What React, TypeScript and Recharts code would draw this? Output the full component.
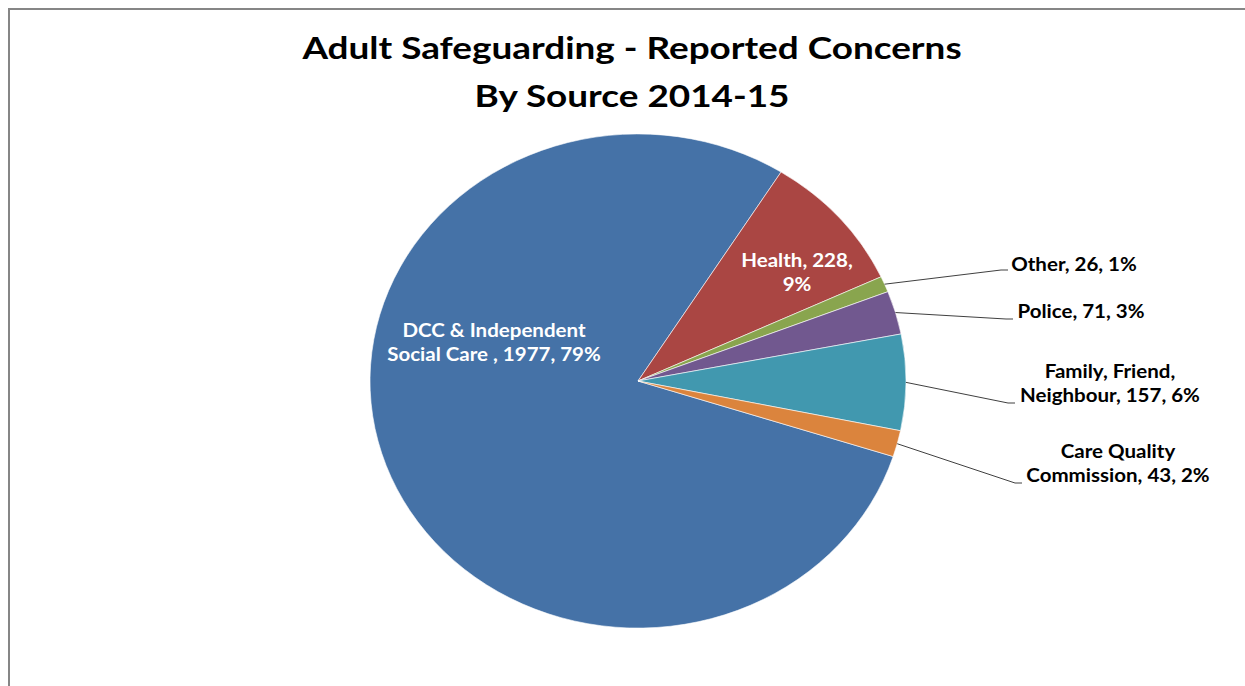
import React from 'react';
import { Pie, PieChart } from 'recharts';

const sources = [
  'DCC & Independent Social Care ',
  'Health',
  'Other',
  'Police',
  'Family, Friend, Neighbour',
  'Care Quality Commission',
];
const concerns = [1977, 228, 26, 71, 157, 43];
const sliceColors = ['#4572A7', '#AA4643', '#89A54E', '#71588F', '#4198AF', '#DB843D'];

const titleLines = ['Adult Safeguarding - Reported Concerns', 'By Source 2014-15'];

const data = sources.map((name, i) => ({ name, value: concerns[i], fill: sliceColors[i] }));

// label placement (text centre x, first baseline, where the first line breaks, leader end)
const labelLayout = [
  { x: 494, y: 337, breakAt: 'DCC & Independent', inside: true },
  { x: 797, y: 267, breakAt: 'Health, 228,', inside: true },
  { x: 1074, y: 271, breakAt: '', end: [1008, 270] },
  { x: 1081, y: 318, breakAt: '', end: [1013, 319] },
  { x: 1110, y: 378, breakAt: 'Family, Friend,', end: [1015, 403] },
  { x: 1118, y: 458, breakAt: 'Care Quality', end: [1022, 483] },
];

const FONT = 'Lato, "Open Sans", sans-serif';
const RAD = Math.PI / 180;
const SQUASH = 0.922;
const LABEL_STRETCH = 1.14;
const TITLE_STRETCH = 1.23;

const stretchX = (x: number, s: number) => `translate(${x} 0) scale(${s} 1) translate(${-x} 0)`;

const ellipsePoint = (cx: number, cy: number, r: number, a: number) => [
  cx + r * Math.cos(a * RAD),
  cy - r * SQUASH * Math.sin(a * RAD),
];

const EllipseSector = (props: any) => {
  const { cx, cy, outerRadius, startAngle, endAngle, fill } = props;
  const [x1, y1] = ellipsePoint(cx, cy, outerRadius, startAngle);
  const [x2, y2] = ellipsePoint(cx, cy, outerRadius, endAngle);
  const large = Math.abs(startAngle - endAngle) > 180 ? 1 : 0;
  const sweep = startAngle > endAngle ? 1 : 0;
  const d = `M${cx},${cy} L${x1},${y1} A${outerRadius},${outerRadius * SQUASH} 0 ${large} ${sweep} ${x2},${y2} Z`;
  return <path d={d} fill={fill} stroke="#ffffff" strokeWidth={0.6} />;
};

const renderLabel = (props: any) => {
  const { cx, cy, midAngle, outerRadius, index, name, value, percent } = props;
  const lay = labelLayout[index];
  const full = `${name}, ${value}, ${Math.round(percent * 100)}%`;
  let lines = [full];
  if (lay.breakAt && full.startsWith(lay.breakAt)) {
    lines = [lay.breakAt, full.slice(lay.breakAt.length).trim()];
  }
  const color = lay.inside ? '#ffffff' : '#000000';
  let leader = null;
  if (!lay.inside && lay.end) {
    const [sx, sy] = ellipsePoint(cx, cy, outerRadius, midAngle);
    const [ex, ey] = lay.end;
    leader = (
      <path
        d={`M${sx},${sy} L${ex - 7},${ey} L${ex},${ey}`}
        fill="none"
        stroke="#404040"
        strokeWidth={1}
      />
    );
  }
  return (
    <g key={`lbl-${index}`}>
      {leader}
      <text
        x={lay.x}
        y={lay.y}
        textAnchor="middle"
        fill={color}
        fontFamily={FONT}
        fontWeight="bold"
        fontSize={18}
        transform={stretchX(lay.x, LABEL_STRETCH)}
      >
        {lines.map((ln, i) => (
          <tspan key={i} x={lay.x} dy={i === 0 ? 0 : 24}>
            {ln}
          </tspan>
        ))}
      </text>
    </g>
  );
};

export default function App() {
  return (
    <div
      style={{
        position: 'fixed',
        left: 0,
        top: 0,
        width: 1245,
        height: 686,
        background: '#fff',
        overflow: 'hidden',
      }}
    >
      <div
        style={{
          position: 'absolute',
          left: 8,
          top: 8,
          width: 1300,
          height: 700,
          borderTop: '2px solid #868686',
          borderLeft: '2px solid #868686',
          boxSizing: 'border-box',
        }}
      />
      <svg width={1245} height={130} style={{ position: 'absolute', left: 0, top: 0 }}>
        {titleLines.map((t, i) => (
          <text
            key={t}
            x={632}
            y={59 + i * 48}
            textAnchor="middle"
            fontFamily={FONT}
            fontWeight="bold"
            fontSize={30}
            fill="#000"
            transform={stretchX(632, TITLE_STRETCH)}
          >
            {t}
          </text>
        ))}
      </svg>
      <div style={{ position: 'absolute', left: 0, top: 0 }}>
        <PieChart width={1245} height={686} margin={{ top: 0, right: 0, bottom: 0, left: 0 }}>
          <Pie
            data={data}
            dataKey="value"
            nameKey="name"
            cx={638}
            cy={381}
            outerRadius={268}
            startAngle={-17.8}
            endAngle={-377.8}
            shape={EllipseSector}
            activeShape={EllipseSector}
            inactiveShape={EllipseSector}
            label={renderLabel}
            labelLine={false}
            isAnimationActive={false}
            stroke="#fff"
          />
        </PieChart>
      </div>
    </div>
  );
}
